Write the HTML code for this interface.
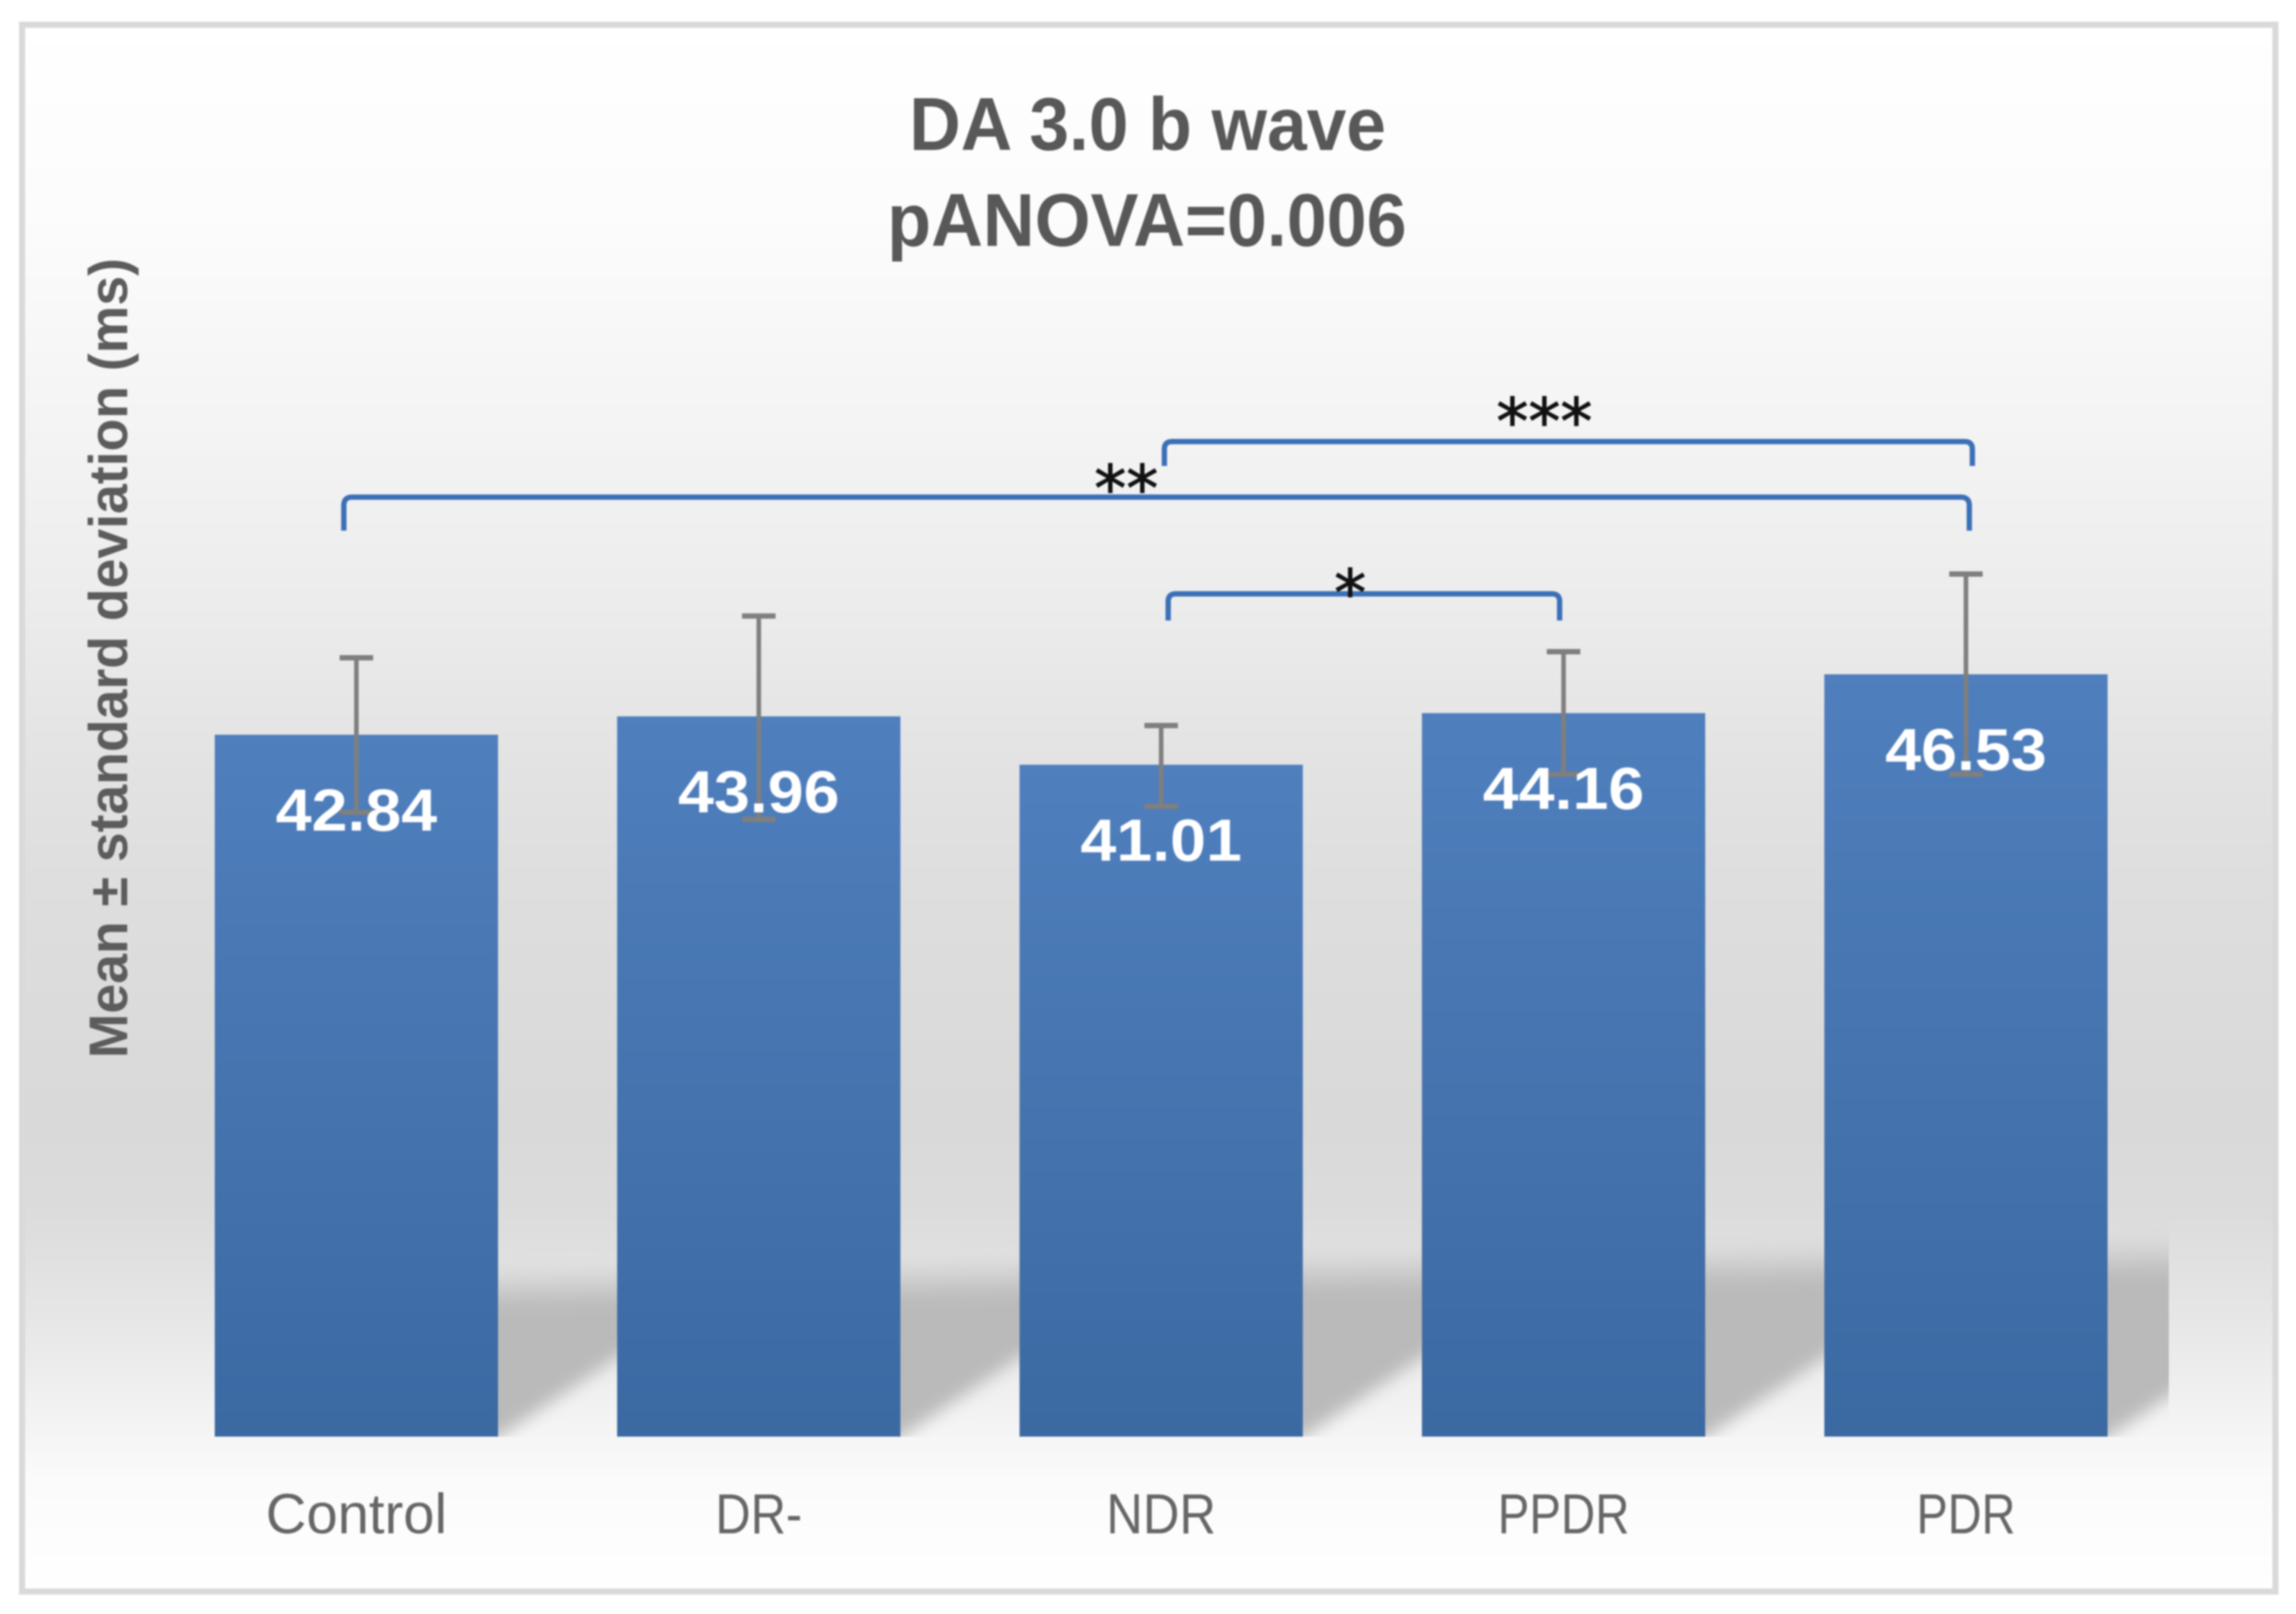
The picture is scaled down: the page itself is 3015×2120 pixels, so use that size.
<!DOCTYPE html>
<html lang="en">
<head>
<meta charset="utf-8">
<title>DA 3.0 b wave</title>
<style>
html,body{margin:0;padding:0;background:#fff;width:3015px;height:2120px;overflow:hidden}
svg{display:block;position:absolute;left:0;top:0;filter:blur(1px)}
text{font-family:"Liberation Sans",sans-serif}
</style>
</head>
<body>
<svg id="chart" xmlns="http://www.w3.org/2000/svg" width="3015" height="2120" viewBox="0 0 3015 2120">
  <defs>
    <linearGradient id="bg-gradient" x1="0" y1="36" x2="0" y2="2087" gradientUnits="userSpaceOnUse">
      <stop offset="0" stop-color="#ffffff"/>
      <stop offset="0.12" stop-color="#fcfcfc"/>
      <stop offset="0.27" stop-color="#f3f3f3"/>
      <stop offset="0.37" stop-color="#ececec"/>
      <stop offset="0.47" stop-color="#e3e3e3"/>
      <stop offset="0.55" stop-color="#dedede"/>
      <stop offset="0.70" stop-color="#d9d9d9"/>
      <stop offset="0.76" stop-color="#dcdcdc"/>
      <stop offset="0.83" stop-color="#e7e7e7"/>
      <stop offset="0.89" stop-color="#f3f3f3"/>
      <stop offset="0.93" stop-color="#fbfbfb"/>
      <stop offset="1" stop-color="#ffffff"/>
    </linearGradient>
    <linearGradient id="bar-gradient" x1="0" y1="0" x2="0" y2="1">
      <stop offset="0" stop-color="#4f7fbd"/>
      <stop offset="1" stop-color="#3b69a2"/>
    </linearGradient>
    <linearGradient id="shadow-gradient" gradientUnits="userSpaceOnUse" x1="1500" y1="1648" x2="1501" y2="1702">
      <stop offset="0" stop-color="#bababa" stop-opacity="0"/>
      <stop offset="1" stop-color="#bababa" stop-opacity="1"/>
    </linearGradient>
    <filter id="shadow-blur" x="-30%" y="-30%" width="160%" height="160%">
      <feGaussianBlur stdDeviation="11"/>
    </filter>
    <clipPath id="shadow-clip"><rect x="300" y="1500" width="2548" height="387"/></clipPath>
  </defs>

  <rect x="29" y="32.5" width="2959" height="2058" fill="url(#bg-gradient)" stroke="#d9d9d9" stroke-width="8"/>

  <g id="shadow-layer" clip-path="url(#shadow-clip)"></g>
  <g id="bar-layer"></g>
  <g id="error-layer"></g>
  <g id="label-layer"></g>
  <g id="tick-layer"></g>

  <g fill="#585858" font-weight="700" font-size="98" text-anchor="middle">
    <text x="1507" y="197" textLength="626" lengthAdjust="spacingAndGlyphs">DA 3.0 b wave</text>
    <text x="1506" y="323" textLength="682" lengthAdjust="spacingAndGlyphs">pANOVA=0.006</text>
  </g>

  <text transform="translate(167 1390) rotate(-90)" fill="#5c5c5c" font-weight="700" font-size="71" textLength="1051" lengthAdjust="spacingAndGlyphs">Mean ± standard deviation (ms)</text>

  <g fill="none" stroke="#3b70b7" stroke-width="7">
    <path d="M451.5 697V664Q451.5 653 462 653H2575Q2586 653 2586 664V697"/>
    <path d="M1529 612V590Q1529 580 1539 580H2580Q2590 580 2590 590V612"/>
    <path d="M1534 815V790Q1534 780 1544 780H2038Q2048 780 2048 790V815"/>
  </g>
  <g fill="#111" stroke="#111" stroke-width="1.2" font-size="84" text-anchor="middle">
    <text x="2028" y="583" style="font-family:'DejaVu Sans',sans-serif">***</text>
    <text x="1479" y="671" style="font-family:'DejaVu Sans',sans-serif">**</text>
    <text x="1773" y="808" style="font-family:'DejaVu Sans',sans-serif">*</text>
  </g>
</svg>
<script>
const categories = ["Control", "DR-", "NDR", "PPDR", "PDR"];
const values = [42.84, 43.96, 41.01, 44.16, 46.53];
const errHigh = [47.54, 50.09, 43.40, 47.91, 52.65];
const errLow = [38.10, 37.68, 38.47, 40.43, 40.43];

const SVG_NS = "http://www.w3.org/2000/svg";
const BASELINE = 1887;
const PX_PER_UNIT = 21.52;
const FIRST_CENTER = 468;
const STEP = 528.4;
const BAR_WIDTH = 372;

function xScale(i) { return FIRST_CENTER + i * STEP; }
function yScale(v) { return BASELINE - v * PX_PER_UNIT; }
function slug(s) { return s.toLowerCase().replace(/[^a-z0-9]/g, ""); }

function make(tag, attrs, parent) {
  const el = document.createElementNS(SVG_NS, tag);
  for (const k in attrs) el.setAttribute(k, attrs[k]);
  parent.appendChild(el);
  return el;
}

const shadowLayer = document.getElementById("shadow-layer");
const barLayer = document.getElementById("bar-layer");
const errorLayer = document.getElementById("error-layer");
const labelLayer = document.getElementById("label-layer");
const tickLayer = document.getElementById("tick-layer");

const tickWidth = { "Control": 238, "DR-": 114, "NDR": 144, "PPDR": 173, "PDR": 130 };

categories.forEach(function (cat, i) {
  const cx = xScale(i);
  const left = cx - BAR_WIDTH / 2;
  const right = cx + BAR_WIDTH / 2;
  const top = yScale(values[i]);
  const name = slug(cat);

  const shadow = make("polygon", {
    points: (right - 30) + "," + (BASELINE + 21) + " " + (right + STEP - BAR_WIDTH + 30) + "," + (BASELINE - 103 - 21) + " " + (right + STEP - BAR_WIDTH + 30) + ",1560 " + (right - 30) + ",1560",
    fill: "url(#shadow-gradient)",
    filter: "url(#shadow-blur)"
  }, shadowLayer);
  
  

  const bar = make("rect", {
    x: left, y: top, width: BAR_WIDTH, height: BASELINE - top,
    fill: "url(#bar-gradient)"
  }, barLayer);
  
  

  const label = make("text", {
    x: cx, y: top + 126, fill: "#ffffff", "font-size": 78, "font-weight": 700,
    "text-anchor": "middle", textLength: 212, lengthAdjust: "spacingAndGlyphs"
  }, labelLayer);
  label.textContent = values[i].toFixed(2);
  
  

  const hi = yScale(errHigh[i]);
  const lo = yScale(errLow[i]);
  const stem = make("line", { x1: cx, x2: cx, y1: hi, y2: lo, stroke: "#7f7f7f", "stroke-width": 6 }, errorLayer);
  
  
  const capTop = make("line", { x1: cx - 22, x2: cx + 22, y1: hi, y2: hi, stroke: "#7f7f7f", "stroke-width": 7 }, errorLayer);
  
  
  const capBottom = make("line", { x1: cx - 22, x2: cx + 22, y1: lo, y2: lo, stroke: "#7f7f7f", "stroke-width": 7 }, errorLayer);
  
  

  const tick = make("text", {
    x: cx, y: 2014, fill: "#666666", "font-size": 74, "text-anchor": "middle",
    textLength: tickWidth[cat], lengthAdjust: "spacingAndGlyphs"
  }, tickLayer);
  tick.textContent = cat;
  
  
});
</script>
</body>
</html>
